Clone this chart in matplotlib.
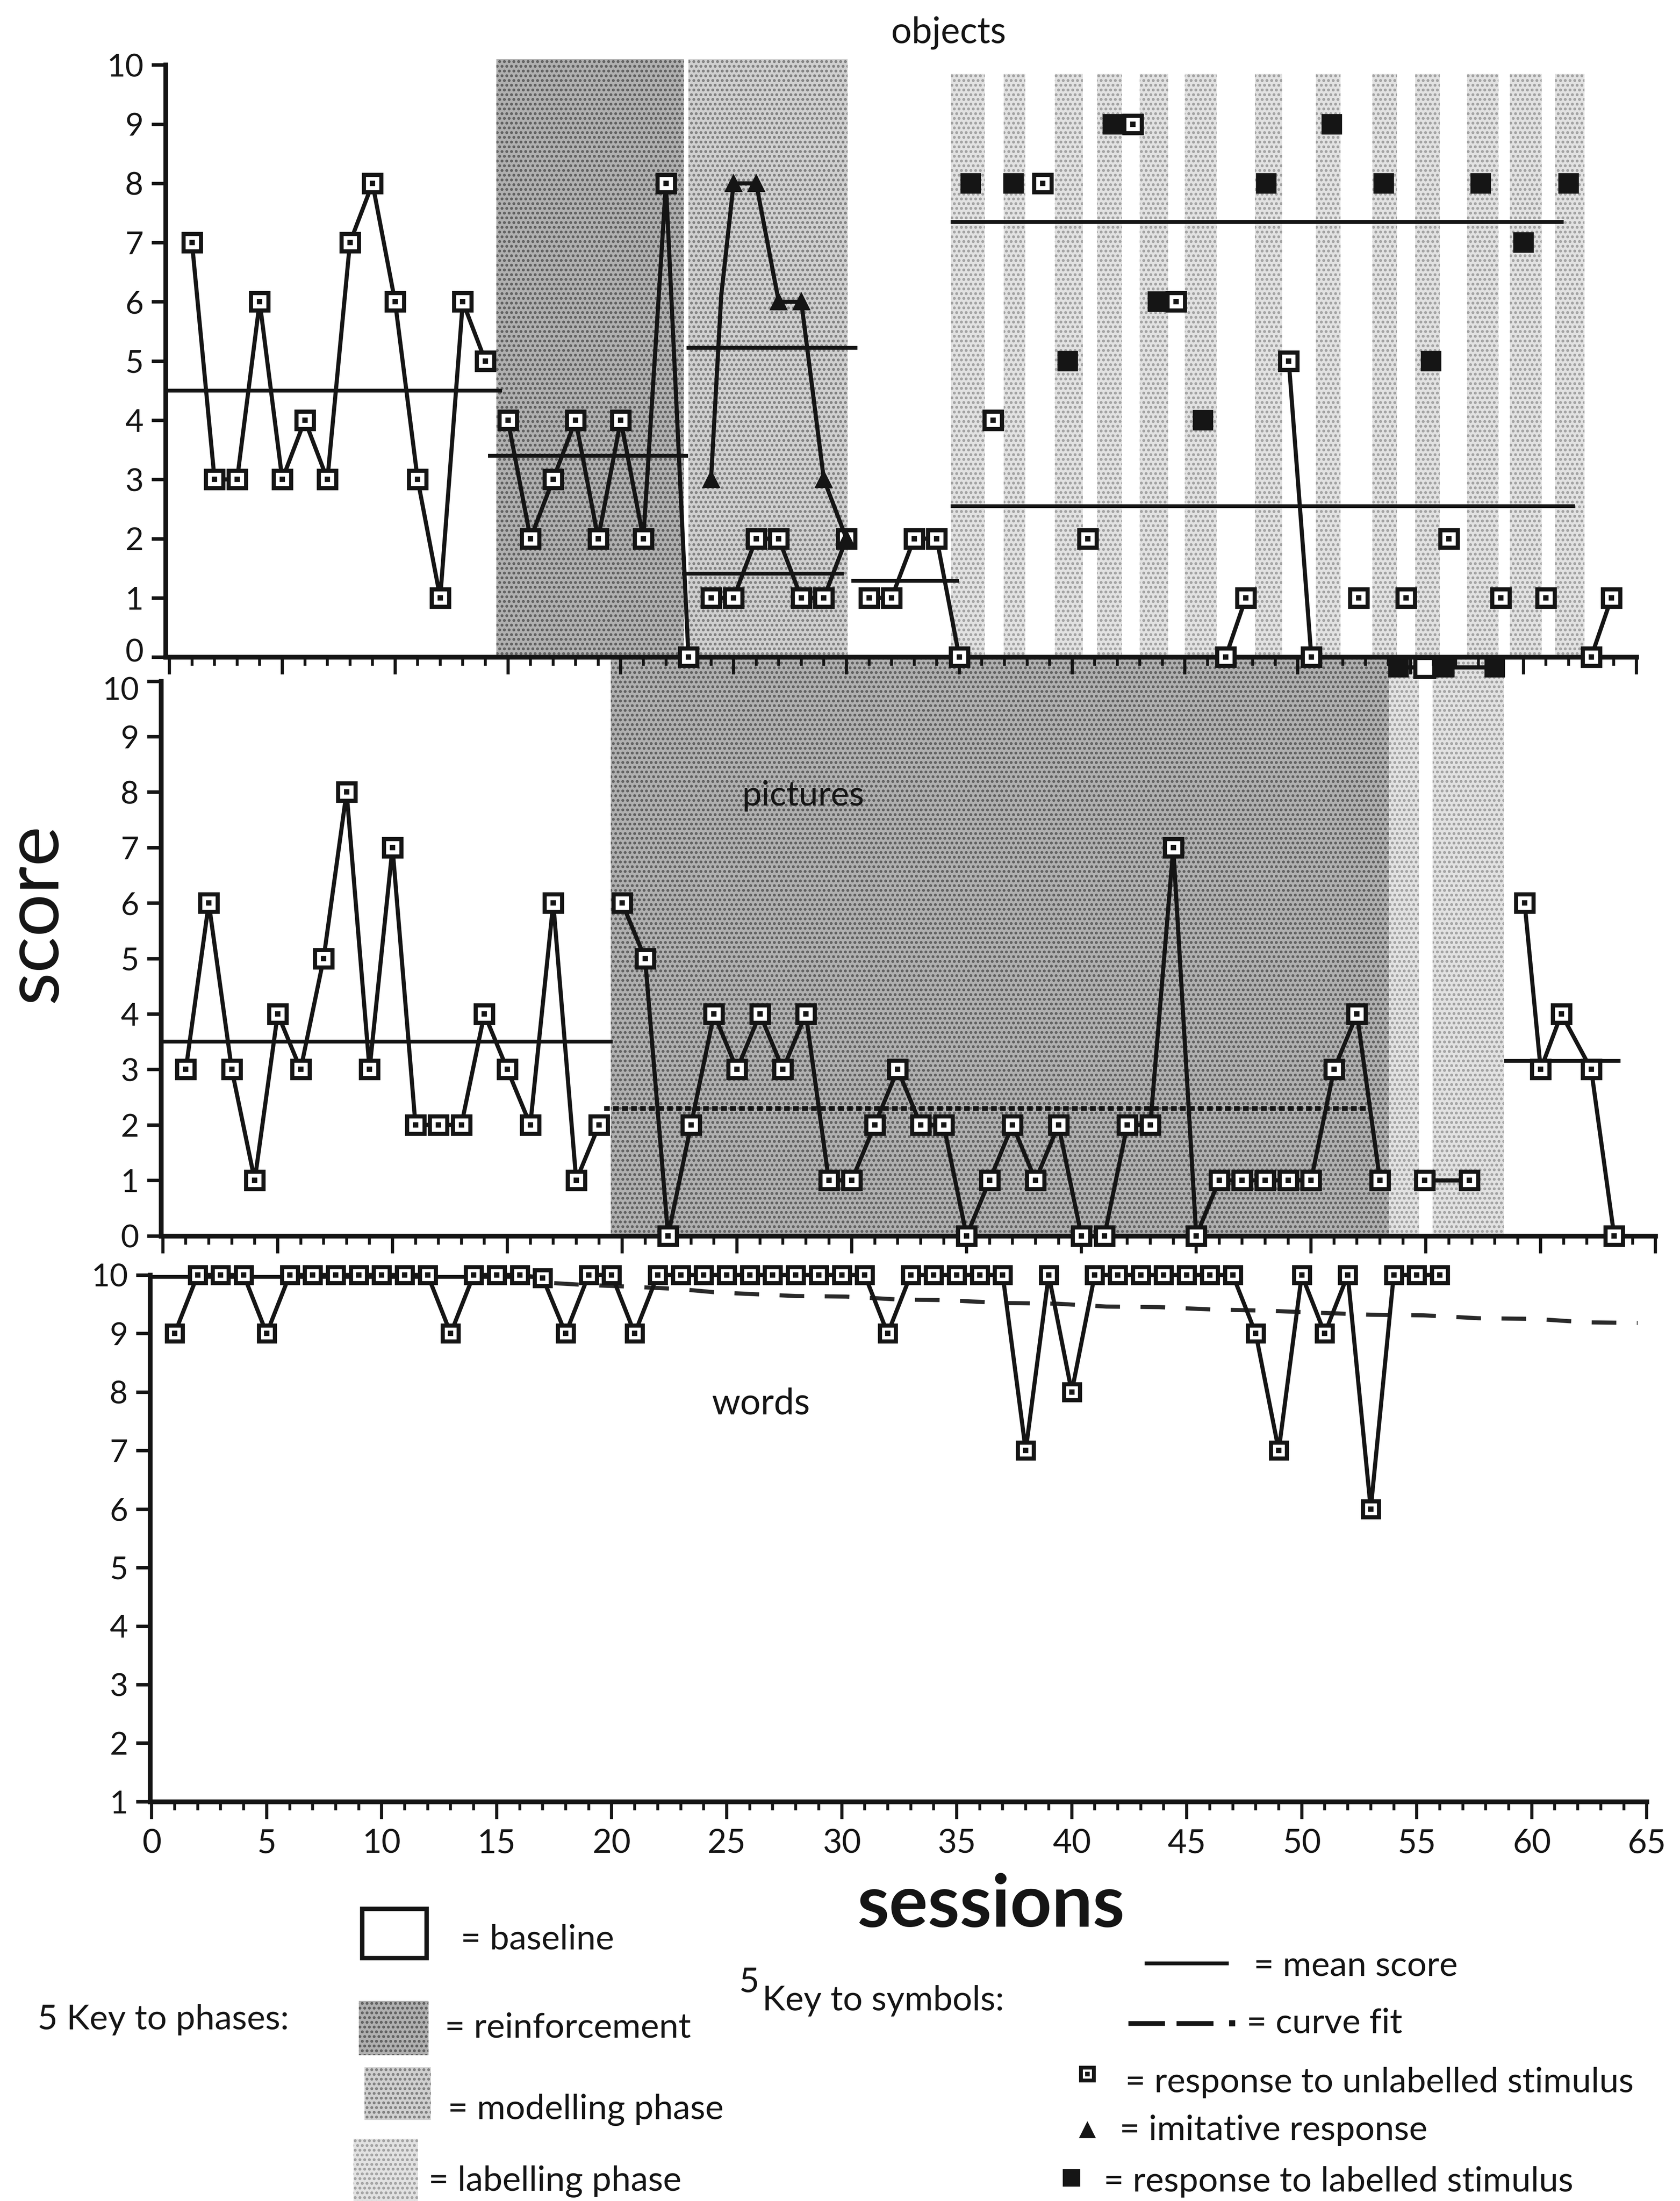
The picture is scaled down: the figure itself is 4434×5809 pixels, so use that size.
import matplotlib.pyplot as plt
import matplotlib.transforms as mtransforms
from matplotlib.patches import Rectangle
from matplotlib.lines import Line2D

plt.rcParams['font.family'] = ['Lato', 'DejaVu Sans']
plt.rcParams['hatch.linewidth'] = 1.2

W, H = 4434, 5809
INK = '#151515'

# ---------------- objects (top panel)
obj_base_x = list(range(1, 15))
obj_base_y = [7, 3, 3, 6, 3, 4, 3, 7, 8, 6, 3, 1, 6, 5]
obj_reinf_x = list(range(15, 24))
obj_reinf_y = [4, 2, 3, 4, 2, 4, 2, 8, 0]
obj_imit_x = [24, 24.45, 25, 26, 27, 28, 29, 30]
obj_imit_y = [3, 6.1, 8, 8, 6, 6, 3, 2]
obj_model_x = list(range(24, 31))
obj_model_y = [1, 1, 2, 2, 1, 1, 2]
obj_pre_x = [31, 32, 33, 34, 35]
obj_pre_y = [1, 1, 2, 2, 0]
obj_lab_x = [35.5, 37.4, 39.8, 41.8, 43.8, 45.8, 48.6, 51.5, 53.8, 55.9, 58.1, 60.0, 62.0]
obj_lab_y = [8, 8, 5, 9, 6, 4, 8, 9, 8, 5, 8, 7, 8]
obj_unl_x = [36.5, 38.7, 40.7, 42.7, 44.6, 52.7, 54.8, 56.7, 59.0, 61.0]
obj_unl_y = [4, 8, 2, 9, 6, 1, 1, 2, 1, 1]
obj_pair_x = [[46.8, 47.7], [49.6, 50.6], [63.0, 63.9]]
obj_pair_y = [[0, 1], [5, 0], [0, 1]]
obj_mean_x0 = [-0.17, 14.2, 23.0, 22.8, 30.3, 34.7, 34.7]
obj_mean_x1 = [14.65, 22.9, 30.4, 29.8, 34.9, 61.7, 62.2]
obj_mean_y = [4.5, 3.4, 5.22, 1.41, 1.29, 7.35, 2.55]
obj_reinf_span = [14.48, 22.8]
obj_model_span = [23.0, 30.05]
obj_lab_starts = [34.64, 36.96, 39.24, 41.1, 43.0, 45.0, 48.1, 50.8, 53.3, 55.2, 57.5, 59.4, 61.4]
obj_lab_ends = [36.13, 37.92, 40.48, 42.2, 44.26, 46.4, 49.3, 51.9, 54.4, 56.3, 58.9, 60.8, 62.7]

# ---------------- pictures (middle panel)
pic_base_x = list(range(1, 20))
pic_base_y = [3, 6, 3, 1, 4, 3, 5, 8, 3, 7, 2, 2, 2, 4, 3, 2, 6, 1, 2]
pic_reinf_x = list(range(20, 54))
pic_reinf_y = [6, 5, 0, 2, 4, 3, 4, 3, 4, 1, 1, 2, 3, 2, 2, 0, 1, 2, 1, 2,
               0, 0, 2, 2, 7, 0, 1, 1, 1, 1, 1, 3, 4, 1]
pic_lab_x = [54.95, 56.9]
pic_lab_y = [1, 1]
pic_top_x = [53.8, 54.95, 55.8, 58.0]
pic_top_y = [10.25, 10.25, 10.25, 10.25]
pic_topfill = [True, False, True, True]
pic_post_x = [59.3, 60.0, 60.9, 62.2, 63.2]
pic_post_y = [6, 3, 4, 3, 0]
pic_mean_x0 = [-0.08, 58.5]
pic_mean_x1 = [19.5, 63.4]
pic_mean_y = [3.5, 3.15]
pic_reinf_mean = [19.2, 52.4, 2.3]
pic_reinf_span = [19.5, 53.4]
pic_lab_starts = [53.4, 55.3, 56.7]
pic_lab_ends = [54.7, 56.7, 58.4]

# ---------------- words (bottom panel)
word_x = list(range(1, 57))
word_y = [9, 10, 10, 10, 9, 10, 10, 10, 10, 10, 10, 10, 9, 10, 10, 10, 9.95, 9, 10, 10,
          9, 10, 10, 10, 10, 10, 10, 10, 10, 10, 10, 9, 10, 10, 10, 10, 10, 7, 10, 8,
          10, 10, 10, 10, 10, 10, 10, 9, 7, 10, 9, 10, 6, 10, 10, 10]
word_mean = [-0.07, 16.5, 9.97]
word_fit_x = [17.5, 18.8, 20.8, 22.9, 24.6, 28.0, 30.2, 32.5, 34.5, 37.0, 39.3,
              41.5, 43.8, 46.1, 48.4, 53.0, 55.3, 57.7, 60.1, 62.4, 64.6]
word_fit_y = [9.86, 9.83, 9.80, 9.76, 9.70, 9.64, 9.63, 9.58, 9.57, 9.52, 9.51,
              9.46, 9.45, 9.41, 9.39, 9.32, 9.31, 9.26, 9.25, 9.19, 9.18]

LW = 2.6
MEW = 2.6

REINF = dict(facecolor='#b0b0b0', edgecolor='#5e5e5e', hatch='....')
MODEL = dict(facecolor='#d0d0d0', edgecolor='#7e7e7e', hatch='....')
LABEL = dict(facecolor='#e2e2e2', edgecolor='#a0a0a0', hatch='....')


def shade(ax, x0, x1, y0, y1, style):
    ax.add_patch(Rectangle((x0, y0), x1 - x0, y1 - y0, lw=0, zorder=0, **style))


def open_squares(ax, x, y, ms, line=True):
    ax.plot(x, y, ls='-' if line else 'none', color=INK, lw=LW, marker='s', ms=ms,
            mfc='white', mec=INK, mew=MEW, zorder=4, clip_on=False)
    ax.plot(x, y, ls='none', marker='s', ms=ms * 0.22, color=INK, zorder=5, clip_on=False)


def filled_squares(ax, x, y, ms):
    ax.plot(x, y, ls='none', marker='s', ms=ms, color=INK, zorder=5, clip_on=False)


def setup(ax, xlim, ylim, ybounds, ylabels, xlabels, yfs):
    ax.set_xlim(*xlim)
    ax.set_ylim(*ylim)
    ax.patch.set_visible(False)
    ax.spines['top'].set_visible(False)
    ax.spines['right'].set_visible(False)
    ax.spines['left'].set_bounds(*ybounds)
    ax.spines['bottom'].set_position(('data', ybounds[0]))
    ax.spines['bottom'].set_bounds(xlim[0], 65)
    for s in ['left', 'bottom']:
        ax.spines[s].set_linewidth(3)
        ax.spines[s].set_color(INK)
    ax.set_yticks(ylabels)
    ax.set_yticklabels([str(v) for v in ylabels], fontsize=yfs)
    ax.set_xticks(range(0, 66, 5))
    ax.set_xticks(range(0, 66), minor=True)
    ax.tick_params(axis='y', direction='out', length=9, width=2.2, pad=5, colors=INK)
    ax.tick_params(axis='x', which='major', direction='out', length=11, width=2, colors=INK,
                   labelbottom=xlabels, labelsize=21, pad=6)
    ax.tick_params(axis='x', which='minor', direction='out', length=5.5, width=1.8, colors=INK)


fig = plt.figure(figsize=(W / 300 + 0.001, H / 300 + 0.001), dpi=300)

# ---------------- panel axes (pixel placement)
ax3 = fig.add_axes([396 / W, 1 - 4755 / H, (4346 - 396) / W, (4755 - 3311) / H])
ax2 = fig.add_axes([425 / W, 1 - 3313 / H, (4380 - 425) / W, (3313 - 1732) / H])
ax1 = fig.add_axes([437 / W, 1 - 1789 / H, (4344 - 437) / W, (1789 - 117) / H])
ax1.set_zorder(3)
ax2.set_zorder(2)
ax3.set_zorder(1)

setup(ax1, (-0.17, 65.43), (-0.35, 10.35), (0, 10), list(range(0, 11)), False, 20)
setup(ax2, (-0.08, 65.18), (-0.35, 10.45), (0, 10), list(range(0, 11)), False, 20)
setup(ax3, (-0.07, 65.0), (1, 10.35), (1, 10), list(range(1, 11)), True, 20)

# nudge the touching "0" / "10" labels where the top two panels meet
up = mtransforms.ScaledTranslation(0, 4.5 / 72, fig.dpi_scale_trans)
down = mtransforms.ScaledTranslation(0, -4.5 / 72, fig.dpi_scale_trans)
lab0 = ax1.get_yticklabels()[0]
lab0.set_transform(lab0.get_transform() + up)
lab10 = ax2.get_yticklabels()[-1]
lab10.set_transform(lab10.get_transform() + down)

# objects
shade(ax1, obj_reinf_span[0], obj_reinf_span[1], 0, 10.1, REINF)
shade(ax1, obj_model_span[0], obj_model_span[1], 0, 10.1, MODEL)
for a, b in zip(obj_lab_starts, obj_lab_ends):
    shade(ax1, a, b, 0, 9.85, LABEL)
for a, b, v in zip(obj_mean_x0, obj_mean_x1, obj_mean_y):
    ax1.plot([a, b], [v, v], color=INK, lw=2.4, zorder=3)
open_squares(ax1, obj_base_x, obj_base_y, 11)
open_squares(ax1, obj_reinf_x, obj_reinf_y, 11)
ax1.plot(obj_imit_x, obj_imit_y, color=INK, lw=LW, marker='^', ms=10,
         markevery=[0, 2, 3, 4, 5, 6, 7], zorder=5)
open_squares(ax1, obj_model_x, obj_model_y, 11)
open_squares(ax1, obj_pre_x, obj_pre_y, 11)
filled_squares(ax1, obj_lab_x, obj_lab_y, 12)
open_squares(ax1, obj_unl_x, obj_unl_y, 11, line=False)
for px, py in zip(obj_pair_x, obj_pair_y):
    open_squares(ax1, px, py, 11)
fig.text(0.5645, 0.985, 'objects', ha='center', va='center', fontsize=23, color=INK)

# pictures
shade(ax2, pic_reinf_span[0], pic_reinf_span[1], 0, 10.45, REINF)
for a, b in zip(pic_lab_starts, pic_lab_ends):
    shade(ax2, a, b, 0, 10.45, LABEL)
ax2.plot([pic_mean_x0[0], pic_mean_x1[0]], [pic_mean_y[0]] * 2, color=INK, lw=2.4, zorder=3)
ax2.plot([pic_mean_x0[1], pic_mean_x1[1]], [pic_mean_y[1]] * 2, color=INK, lw=2.4, zorder=3)
ax2.plot(pic_reinf_mean[:2], [pic_reinf_mean[2]] * 2, color=INK, lw=3, dashes=(1.2, 0.7), zorder=3)
open_squares(ax2, pic_base_x, pic_base_y, 11)
open_squares(ax2, pic_reinf_x, pic_reinf_y, 11)
open_squares(ax2, pic_lab_x, pic_lab_y, 11)
ax2.plot(pic_top_x, pic_top_y, color=INK, lw=LW, zorder=4, clip_on=False)
for x, y, f in zip(pic_top_x, pic_top_y, pic_topfill):
    if f:
        filled_squares(ax2, [x], [y], 12)
    else:
        ax2.plot([x], [y], ls='none', marker='s', ms=12, mfc='white', mec=INK, mew=MEW,
                 zorder=5, clip_on=False)
open_squares(ax2, pic_post_x, pic_post_y, 11)
fig.text(2120 / W, 1 - 2100 / H, 'pictures', ha='center', va='center', fontsize=22, color=INK)

# words
ax3.plot(word_mean[:2], [word_mean[2]] * 2, color=INK, lw=2.4, zorder=3)
ax3.plot(word_fit_x, word_fit_y, color='#2a2a2a', lw=2.6, dashes=(6, 5), zorder=3)
open_squares(ax3, word_x, word_y, 10)
fig.text(2008 / W, 1 - 3705 / H, 'words', ha='center', va='center', fontsize=23, color=INK)

# axis titles
fig.text(92 / W, 1 - 2410 / H, 'score', rotation=90, ha='center', va='center',
         fontsize=48, color=INK)
fig.text(2615 / W, 1 - 5030 / H, 'sessions', ha='center', va='center', fontsize=46,
         fontweight='bold', color=INK)

# ---------------- keys (drawn in pixel space)
leg = fig.add_axes([0, 0, 1, 1])
leg.set_xlim(0, W)
leg.set_ylim(H, 0)
leg.axis('off')
leg.set_zorder(0)

LFS = 22
leg.text(99, 5330, '5 Key to phases:', fontsize=LFS, va='center', color=INK)
leg.add_patch(Rectangle((956, 5038), 170, 130, facecolor='white', edgecolor=INK, lw=2.8))
leg.text(1216, 5119, '= baseline', fontsize=LFS, va='center', color=INK)
leg.add_patch(Rectangle((947, 5281), 184, 143, lw=0, **REINF))
leg.text(1174, 5352, '= reinforcement', fontsize=LFS, va='center', color=INK)
leg.add_patch(Rectangle((962, 5456), 175, 139, lw=0, **MODEL))
leg.text(1182, 5568, '= modelling phase', fontsize=LFS, va='center', color=INK)
leg.add_patch(Rectangle((933, 5645), 170, 164, lw=0, **LABEL))
leg.text(1131, 5757, '= labelling phase', fontsize=LFS, va='center', color=INK)

leg.text(1951, 5232, '5', fontsize=LFS, va='center', color=INK)
leg.text(2012, 5280, 'Key to symbols:', fontsize=LFS, va='center', color=INK)
leg.add_line(Line2D([3026, 3238], [5182, 5182], color=INK, lw=2.4))
leg.text(3309, 5190, '= mean score', fontsize=LFS, va='center', color=INK)
leg.add_line(Line2D([2984, 3068], [5340, 5340], color=INK, lw=3))
leg.add_line(Line2D([3111, 3196], [5340, 5340], color=INK, lw=3))
leg.plot([3252], [5340], ls='none', marker='s', ms=3, color=INK)
leg.text(3290, 5340, '= curve fit', fontsize=LFS, va='center', color=INK)
leg.plot([2870], [5474], ls='none', marker='s', ms=8, mfc='white', mec=INK, mew=2.4)
leg.plot([2870], [5474], ls='none', marker='s', ms=2, color=INK)
leg.text(2970, 5496, '= response to unlabelled stimulus', fontsize=LFS, va='center', color=INK)
leg.plot([2870], [5622], ls='none', marker='^', ms=9, color=INK)
leg.text(2955, 5622, '= imitative response', fontsize=LFS, va='center', color=INK)
leg.plot([2828], [5748], ls='none', marker='s', ms=10, color=INK)
leg.text(2913, 5758, '= response to labelled stimulus', fontsize=LFS, va='center', color=INK)

fig.savefig('out.png', dpi=300, facecolor='white')
